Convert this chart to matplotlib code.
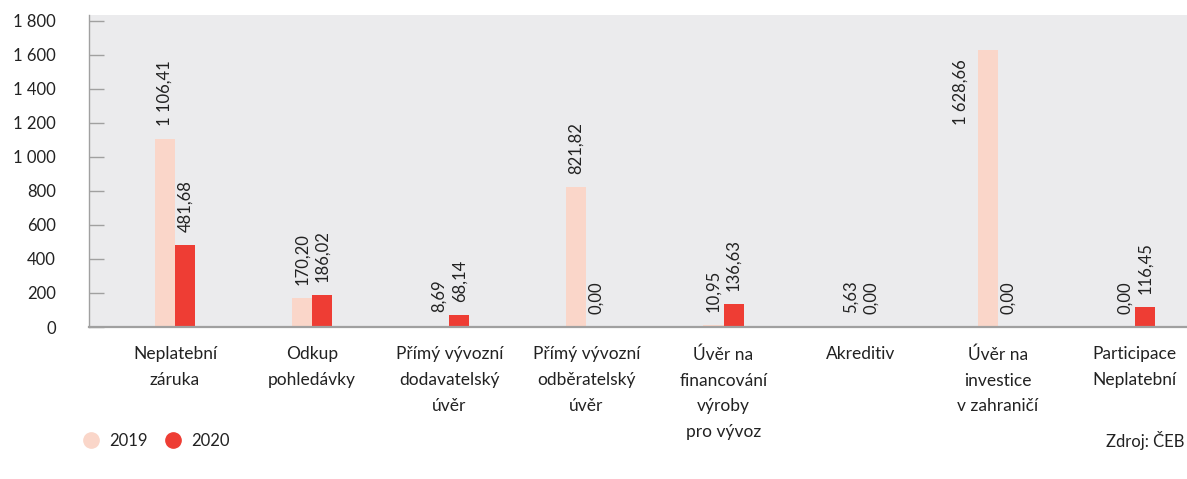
import matplotlib
matplotlib.use("Agg")
import matplotlib.pyplot as plt
from matplotlib.lines import Line2D
import numpy as np

plt.rcParams['font.family'] = ['Lato', 'DejaVu Sans']

categories = [
    "Neplatební\nzáruka",
    "Odkup\npohledávky",
    "Přímý vývozní\ndodavatelský\núvěr",
    "Přímý vývozní\nodběratelský\núvěr",
    "Úvěr na\nfinancování\nvýroby\npro vývoz",
    "Akreditiv",
    "Úvěr na\ninvestice\nv zahraničí",
    "Participace\nNeplatební",
]
values_2019 = [1106.41, 170.20, 8.69, 821.82, 10.95, 5.63, 1628.66, 0.00]
values_2020 = [481.68, 186.02, 68.14, 0.00, 136.63, 0.00, 0.00, 116.45]
series_names = ["2019", "2020"]
yticks = [0, 200, 400, 600, 800, 1000, 1200, 1400, 1600, 1800]

c2019 = "#fad6c9"
c2020 = "#ee3d34"
bg = "#ebebed"
axis_grey = "#a0a0a0"
text_col = "#222222"


def fmt_cz(v):
    s = f"{v:,.2f}"
    return s.replace(",", " ").replace(".", ",")


def fmt_tick(v):
    return f"{int(v):,}".replace(",", " ")


fig = plt.figure(figsize=(11.87, 4.79), dpi=100)
ax = fig.add_axes([89 / 1187, 152 / 479, 1 - 89 / 1187, 312 / 479])
ax.set_facecolor(bg)

ymax = 1835
x = np.arange(len(categories))
w = 0.146
b1 = ax.bar(x - w / 2, values_2019, width=w, color=c2019, zorder=2)
b2 = ax.bar(x + w / 2, values_2020, width=w, color=c2020, zorder=2)

for bars, vals in ((b1, values_2019), (b2, values_2020)):
    for rect, v in zip(bars, vals):
        cx = rect.get_x() + rect.get_width() / 2
        if v > 0.85 * ymax:
            # tall bar: value goes beside the bar, just below its top
            ax.annotate(fmt_cz(v), xy=(cx, v), xytext=(-19.5, -6.5),
                        textcoords="offset points", rotation=90,
                        ha="center", va="top", fontsize=12, color=text_col)
        else:
            ax.annotate(fmt_cz(v), xy=(cx, v), xytext=(0, 9.5),
                        textcoords="offset points", rotation=90,
                        ha="center", va="bottom", fontsize=12, color=text_col)

ax.set_xlim(-0.627, 7.38)
ax.set_ylim(0, ymax)

ax.set_yticks(yticks)
ax.set_yticklabels([fmt_tick(t) for t in yticks], fontsize=12, color=text_col)
ax.tick_params(axis="y", direction="in", length=11, width=1,
               color=axis_grey, pad=24)

ax.set_xticks(x)
ax.set_xticklabels(categories, fontsize=12.5, color=text_col, linespacing=1.75)
ax.tick_params(axis="x", length=0, pad=14)

for side in ("top", "right"):
    ax.spines[side].set_visible(False)
ax.spines["left"].set_color(axis_grey)
ax.spines["left"].set_linewidth(1)
ax.spines["bottom"].set_color(axis_grey)
ax.spines["bottom"].set_linewidth(1.6)

handles = [Line2D([], [], marker="o", linestyle="none", markersize=11,
                  markerfacecolor=c, markeredgecolor=c)
           for c in (c2019, c2020)]
fig.legend(handles, series_names, loc="center left",
           bbox_to_anchor=(68 / 1187, 1 - 441 / 479), ncol=2, frameon=False,
           fontsize=12, handletextpad=0.6, columnspacing=1.0,
           handlelength=1.0, labelcolor=text_col)

fig.text(1184 / 1187, 1 - 441 / 479, "Zdroj: ČEB", ha="right", va="center",
         fontsize=12, color=text_col)

fig.savefig("out.png", dpi=100)
